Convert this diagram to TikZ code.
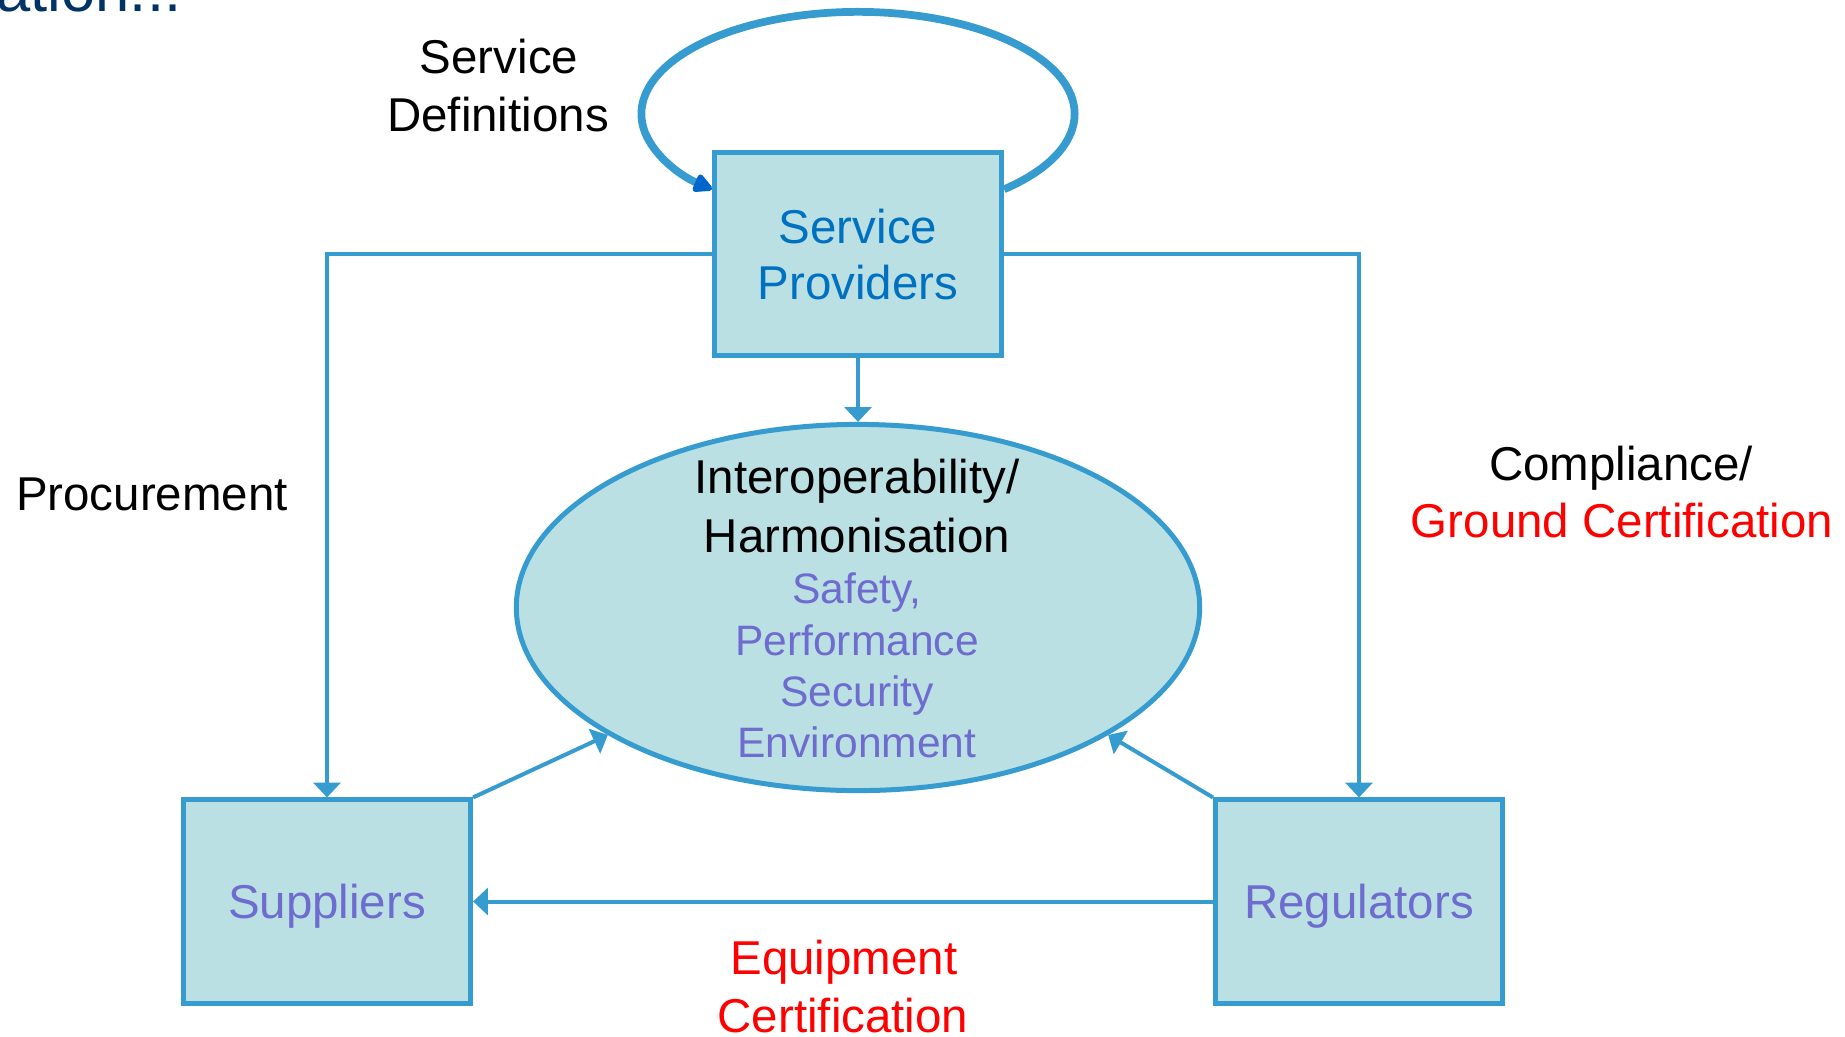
\documentclass[tikz,border=0pt]{standalone}
\usepackage{fontspec}
\setmainfont{Liberation Sans}
\usetikzlibrary{arrows.meta,shapes.geometric,calc}
\definecolor{boxfill}{RGB}{186,224,227}
\definecolor{edgeblue}{RGB}{54,155,206}
\definecolor{spblue}{RGB}{0,112,192}
\definecolor{lilac}{RGB}{110,108,206}
\definecolor{loopdark}{RGB}{0,102,204}
\definecolor{navy}{RGB}{0,51,102}
\definecolor{redtxt}{RGB}{255,0,0}
\newcommand\mainfnt{\fontsize{13.5}{15.9}\selectfont}
\newcommand\innerfnt{\fontsize{12.1}{14.6}\selectfont}
\newcommand\titlefnt{\fontsize{17.5}{20}\selectfont}
\begin{document}
\begin{tikzpicture}[x=0.01cm,y=-0.01cm,
  box/.style={draw=edgeblue, fill=boxfill, line width=1.42pt, minimum width=2.87cm,
    minimum height=2.03cm, inner sep=0pt, align=center, text depth=0pt, font=\mainfnt},
  oval/.style={ellipse, draw=edgeblue, fill=boxfill, line width=1.42pt,
    minimum width=6.83cm, minimum height=3.66cm, inner sep=0pt},
  lbl/.style={font=\mainfnt, anchor=base, inner sep=0pt},
  inlbl/.style={font=\innerfnt, anchor=base, inner sep=0pt, text=lilac},
  conn/.style={draw=edgeblue, line width=1.14pt, -{Triangle[length=4.2pt,width=7.6pt]}},
  loopline/.style={draw=edgeblue, line width=2.2pt,
    -{Triangle[length=6.2pt,width=5.8pt,color=loopdark,round]}}
]
\useasboundingbox (0,0) rectangle (1845,1036);

% title remnant
\node[font=\titlefnt, text=navy, anchor=base east, inner sep=0pt] (title) at (182,11) {ation...};

% nodes
\node[box, text=spblue] (sp) at (858,254) {Service\\Providers};
\node[box, text=lilac] (sup) at (327,901.5) {Suppliers};
\node[box, text=lilac] (reg) at (1359,901.5) {Regulators};
\node[oval] (ell) at (858,607.5) {};

% ellipse text
\node[lbl] (t1) at (857,493) {Interoperability/};
\node[lbl] (t2) at (857,552) {Harmonisation};
\node[inlbl] (t3) at (857,603) {Safety,};
\node[inlbl] (t4) at (857,655) {Performance};
\node[inlbl] (t5) at (857,706) {Security};
\node[inlbl] (t6) at (857,757) {Environment};

% labels
\node[lbl] (sd1) at (499,73) {Service};
\node[lbl] (sd2) at (498,131) {Definitions};
\node[lbl] (proc) at (152,510) {Procurement};
\node[lbl] (comp1) at (1621,480) {Compliance/};
\node[lbl, text=redtxt] (comp2) at (1622,537) {Ground Certification};
\node[lbl, text=redtxt] (eq1) at (844,974) {Equipment};
\node[lbl, text=redtxt] (eq2) at (843,1032) {Certification};

% connectors
\draw[conn] (sp.west) -| (sup.north);
\draw[conn] (sp.east) -| (reg.north);
\draw[conn] (sp.south) -- (ell.north);
\draw[conn] (sup.north east) -- (ell.207);
\draw[conn] (reg.north west) -- (ell.333);
\draw[conn] (reg.west) -- (sup.east);

% self loop
\draw[loopline] ([yshift=-0.393cm]sp.north east)
  arc[start angle=-47.6, end angle=227.6, x radius=2.165cm, y radius=1.02cm];
\end{tikzpicture}
\end{document}
